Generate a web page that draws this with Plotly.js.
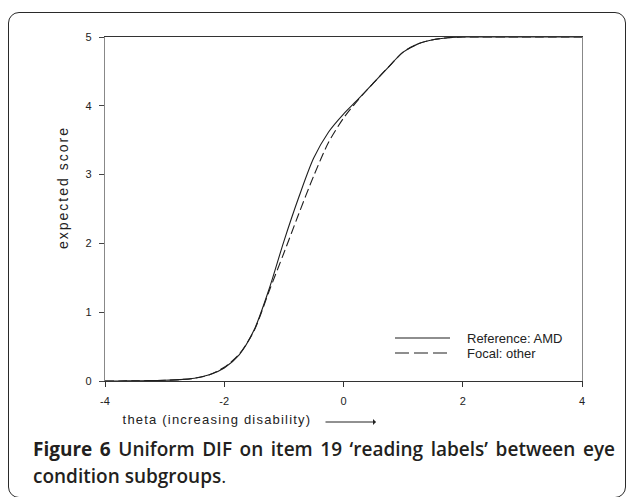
<!DOCTYPE html>
<html>
<head>
<meta charset="utf-8">
<script src="https://cdn.plot.ly/plotly-3.0.1.min.js"></script>
<style>
  html, body { margin: 0; padding: 0; background: #ffffff; }
  #wrap { position: relative; width: 629px; height: 497px; overflow: hidden; background: #fff; }
  #frame { position: absolute; left: 8px; top: 12px; width: 618px; height: 486px;
           border: 1.5px solid #2a2a2a; border-radius: 11px; box-sizing: border-box; }
  #chart { position: absolute; left: 0; top: 0; width: 629px; height: 497px; }
  #caption { position: absolute; left: 33px; top: 436px; width: 582px;
             font-family: "Open Sans", "Noto Sans", sans-serif; font-size: 19px;
             font-weight: 600; color: #231f20; line-height: 27px; }
  #caption .l1 { text-align: justify; text-align-last: justify; white-space: nowrap; }
  #caption b { font-weight: 700; }
  #caption .dot { font-weight: 400; }
  g.annotation[data-index="0"] text { letter-spacing: 1.2px; }
  g.annotation[data-index="1"] text { letter-spacing: 2px; }
</style>
</head>
<body>
<div id="wrap">
  <div id="frame"></div>
  <div id="chart"></div>
  <div id="caption">
    <div class="l1"><b>Figure 6</b> Uniform DIF on item 19 ‘reading labels’ between eye</div>
    <div class="l2">condition subgroups<span class="dot">.</span></div>
  </div>
</div>
<script>
// theta grid
const theta = [-4, -3.75, -3.5, -3.25, -3, -2.75, -2.5, -2.25, -2, -1.75, -1.5, -1.25, -1, -0.75, -0.5, -0.25,
               0, 0.25, 0.5, 0.75, 1, 1.25, 1.5, 1.75, 2, 2.25, 2.5, 2.75, 3, 3.25, 3.5, 3.75, 4];
// Reference group: AMD (solid)
const referenceAMD = [0, 0.001, 0.002, 0.005, 0.01, 0.02, 0.04, 0.09, 0.19, 0.38, 0.74, 1.33, 2.03, 2.67, 3.24, 3.62,
                      3.88, 4.10, 4.33, 4.56, 4.78, 4.90, 4.96, 4.99, 5.0, 5.0, 5.0, 5.0, 5.0, 5.0, 5.0, 5.0, 5.0];
// Focal group: other (dashed)
const focalOther = [0, 0.001, 0.002, 0.005, 0.01, 0.02, 0.04, 0.09, 0.20, 0.39, 0.73, 1.30, 1.86, 2.43, 2.98, 3.47,
                    3.82, 4.09, 4.33, 4.56, 4.78, 4.90, 4.96, 4.99, 5.0, 5.0, 5.0, 5.0, 5.0, 5.0, 5.0, 5.0, 5.0];
const xTickVals = [-4, -2, 0, 2, 4];
const xTickText = ['-4', '-2', '0', '2', '4'];
const yTickVals = [0, 1, 2, 3, 4, 5];
const yTickText = ['0', '1', '2', '3', '4', '5'];
const seriesNames = ['Reference: AMD', 'Focal: other'];
const xTitle = 'theta (increasing disability)';
const yTitle = 'expected score';

const W = 629, H = 497;
const M = {l: 105, r: 47, t: 37, b: 116};
const pw = W - M.l - M.r, ph = H - M.t - M.b;
const px = v => (v - M.l) / pw;          // pixel x -> paper x
const py = v => (H - M.b - v) / ph;      // pixel y -> paper y

const tickFont = {family: 'Liberation Sans, Arial, sans-serif', size: 11, color: '#222'};
const txtFont = {family: 'Liberation Sans, Arial, sans-serif', size: 13, color: '#222'};

const traces = [
  {x: theta, y: referenceAMD, name: seriesNames[0], type: 'scatter', mode: 'lines',
   line: {color: '#1e1e1e', width: 1.1, shape: 'spline', smoothing: 0.8}, showlegend: false},
  {x: theta, y: focalOther, name: seriesNames[1], type: 'scatter', mode: 'lines',
   line: {color: '#1e1e1e', width: 1.1, dash: '9px,4px', shape: 'spline', smoothing: 0.8}, showlegend: false}
];

const layout = {
  width: W, height: H,
  margin: M,
  paper_bgcolor: 'rgba(0,0,0,0)',
  plot_bgcolor: 'rgba(0,0,0,0)',
  showlegend: false,
  xaxis: {
    range: [-4, 4], tickvals: xTickVals, ticktext: xTickText,
    ticks: 'outside', ticklen: 5, tickwidth: 1, tickcolor: '#333',
    showline: true, linecolor: '#333', linewidth: 1, mirror: true,
    showgrid: false, zeroline: false, tickfont: tickFont, ticklabelstandoff: 5,
    fixedrange: true
  },
  yaxis: {
    range: [0, 5], tickvals: yTickVals, ticktext: yTickText,
    ticks: 'outside', ticklen: 5, tickwidth: 1, tickcolor: '#444',
    showline: true, linecolor: '#888', linewidth: 1.3, mirror: true,
    showgrid: false, zeroline: false, tickfont: tickFont, ticklabelstandoff: 5,
    fixedrange: true
  },
  shapes: [
    {type: 'line', xref: 'paper', yref: 'paper', x0: px(395), x1: px(450), y0: py(338), y1: py(338),
     line: {color: '#1e1e1e', width: 1.1}},
    {type: 'line', xref: 'paper', yref: 'paper', x0: px(395), x1: px(450), y0: py(353), y1: py(353),
     line: {color: '#1e1e1e', width: 1.1, dash: '14px,5px'}}
  ],
  annotations: [
    {text: xTitle, xref: 'paper', yref: 'paper', x: px(217), y: py(419), xanchor: 'center', yanchor: 'middle',
     showarrow: false, font: txtFont},
    {text: yTitle, xref: 'paper', yref: 'paper', x: px(63), y: py(188), xanchor: 'center', yanchor: 'middle',
     textangle: -90, showarrow: false, font: {family: txtFont.family, size: 14, color: '#222'}},
    {text: seriesNames[0], xref: 'paper', yref: 'paper', x: px(465), y: py(338), xanchor: 'left', yanchor: 'middle',
     showarrow: false, font: txtFont},
    {text: seriesNames[1], xref: 'paper', yref: 'paper', x: px(465), y: py(353), xanchor: 'left', yanchor: 'middle',
     showarrow: false, font: txtFont},
    {text: '', xref: 'paper', yref: 'paper', x: px(376), y: py(422), ax: -52, ay: 0,
     showarrow: true, arrowhead: 1, arrowsize: 1, arrowwidth: 1, arrowcolor: '#222'}
  ]
};

Plotly.newPlot('chart', traces, layout, {displayModeBar: false, staticPlot: true});
</script>
</body>
</html>
